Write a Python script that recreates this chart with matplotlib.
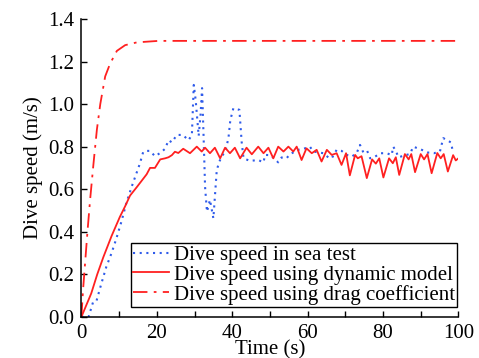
import matplotlib
matplotlib.use("Agg")
import matplotlib.pyplot as plt
from matplotlib.ticker import MultipleLocator

plt.rcParams['font.family'] = 'Liberation Serif'
plt.rcParams['mathtext.fontset'] = 'stix'

# sea test (blue dotted)
sea_t = [0, 1.9, 3.1, 4.0, 5.3, 6.6, 8.0, 9.3, 10.6, 11.9, 13.3, 14.6, 15.5, 16.4,
         17.3, 18.2, 19.5, 20.9, 22.2, 23.1, 24.0, 25.3, 26.9, 28.4, 29.3, 29.8,
         30.3, 31.1, 31.6, 32.0, 32.4, 32.8, 33.3, 34.1, 35.0, 35.9, 36.6, 37.2,
         38.2, 39.0, 39.5, 40.3, 41.9, 42.5, 43.0, 44.7, 46.9, 48.3, 48.7, 50.2,
         51.4, 52.2, 53.1, 54.4, 55.3, 57.5, 59.3, 60.6, 61.5, 64.2, 65.5, 66.4,
         67.7, 69.0, 70.4, 71.7, 73.0, 73.9, 74.8, 75.8, 76.6, 77.6, 79.4, 81.0,
         82.3, 82.7, 83.4, 84.1, 87.2, 88.0, 90.0, 92.0, 93.5, 95.1, 95.6, 96.0,
         97.3, 98.0, 98.5]
sea_v = [0, 0.0, 0.07, 0.075, 0.157, 0.235, 0.30, 0.37, 0.447, 0.534, 0.61, 0.675,
         0.72, 0.776, 0.78, 0.78, 0.755, 0.77, 0.79, 0.83, 0.82, 0.855, 0.855, 0.83,
         0.855, 1.09, 1.02, 0.85, 0.95, 1.075, 0.85, 0.61, 0.494, 0.55, 0.463, 0.69,
         0.73, 0.753, 0.78, 0.84, 0.925, 0.98, 0.973, 0.823, 0.745, 0.733, 0.737,
         0.726, 0.761, 0.76, 0.74, 0.726, 0.749, 0.745, 0.764, 0.785, 0.792, 0.80,
         0.777, 0.769, 0.749, 0.745, 0.785, 0.78, 0.761, 0.753, 0.769, 0.808, 0.772,
         0.78, 0.745, 0.75, 0.769, 0.769, 0.76, 0.80, 0.78, 0.75, 0.766, 0.80, 0.787,
         0.772, 0.769, 0.777, 0.813, 0.84, 0.827, 0.82, 0.78]

# dynamic model (red solid)
dyn_t = [0, 2.6, 4.2, 5.8, 8.0, 10.2, 11.6, 12.9, 14.7, 16.0, 17.3, 18.2, 19.5,
         20.9, 22.2, 23.1, 24.0, 24.8, 25.7, 27.0, 28.8, 30.6, 31.9, 32.8, 34.1,
         35.4, 36.8, 38.1, 39.4, 40.7, 42.1, 43.8, 45.2, 46.9, 48.3, 49.6, 50.9,
         52.2, 53.6, 54.9, 56.2, 57.1, 58.4, 59.7, 61.1, 62.4, 63.7, 65.1, 66.4,
         67.7, 69.0, 70.2, 71.2, 72.6, 73.3, 74.3, 75.7, 77.1, 78.1, 79.0, 80.1,
         81.6, 82.6, 83.4, 84.3, 85.8, 86.8, 87.5, 88.5, 90.0, 90.9, 91.8, 92.9,
         94.4, 95.3, 96.1, 97.2, 98.6, 99.3, 100]
dyn_v = [0, 0.11, 0.20, 0.28, 0.38, 0.47, 0.52, 0.57, 0.61, 0.64, 0.67, 0.70, 0.70,
         0.74, 0.745, 0.75, 0.76, 0.776, 0.77, 0.79, 0.769, 0.80, 0.777, 0.795, 0.769,
         0.795, 0.745, 0.795, 0.769, 0.795, 0.745, 0.795, 0.764, 0.80, 0.769, 0.795,
         0.745, 0.80, 0.777, 0.80, 0.777, 0.80, 0.737, 0.792, 0.769, 0.785, 0.73,
         0.785, 0.761, 0.769, 0.714, 0.769, 0.665, 0.761, 0.745, 0.755, 0.652, 0.74,
         0.72, 0.745, 0.655, 0.745, 0.722, 0.75, 0.667, 0.765, 0.74, 0.765, 0.68,
         0.765, 0.74, 0.765, 0.675, 0.77, 0.745, 0.765, 0.683, 0.76, 0.735, 0.745]

# drag coefficient model (red dash-dot)
drag_t = [0, 0.4, 1.0, 1.6, 2.3, 3.2, 4.1, 5.0, 6.3, 7.6, 9.4, 11.6, 14.7, 20.4, 100]
drag_v = [0, 0.12, 0.26, 0.40, 0.55, 0.72, 0.88, 1.0, 1.13, 1.19, 1.25, 1.277,
          1.29, 1.297, 1.297]

fig = plt.figure(figsize=(4.79, 3.58), dpi=100)
ax = fig.add_axes([0.17, 0.115, 0.787, 0.832])

ax.plot(sea_t, sea_v, color='#2f5bea', linestyle=(0, (1, 2.2)), lw=1.5,
        label='Dive speed in sea test')
ax.plot(dyn_t, dyn_v, color='#ff2020', lw=1.3, label='Dive speed using dynamic model')
ax.plot(drag_t, drag_v, color='#ff2020', lw=1.3, dashes=(8, 3.5, 1.5, 3.5),
        label='Dive speed using drag coefficient')

ax.set_xlim(0, 100)
ax.set_ylim(0, 1.4)
ax.xaxis.set_major_locator(MultipleLocator(20))
ax.xaxis.set_minor_locator(MultipleLocator(10))
ax.yaxis.set_major_locator(MultipleLocator(0.2))
ax.yaxis.set_major_formatter(plt.FormatStrFormatter('%.1f'))
ax.tick_params(which='both', direction='in', length=4, width=1, labelsize=15, pad=5)
ax.spines['top'].set_visible(False)
ax.spines['right'].set_visible(False)
ax.spines['left'].set_linewidth(1.1)
ax.spines['bottom'].set_linewidth(1.1)

ax.set_xlabel('Time (s)', fontsize=15, labelpad=-2)
ax.set_ylabel('Dive speed (m/s)', fontsize=15, labelpad=4)

leg = ax.legend(loc='lower right', bbox_to_anchor=(0.997, 0.033), borderaxespad=0,
                fontsize=15, fancybox=False, edgecolor='black', framealpha=1,
                handlelength=1.75, handletextpad=0.2, labelspacing=0.0,
                borderpad=0.12)
leg.get_frame().set_linewidth(1.0)

fig.savefig('out.png', dpi=100)
